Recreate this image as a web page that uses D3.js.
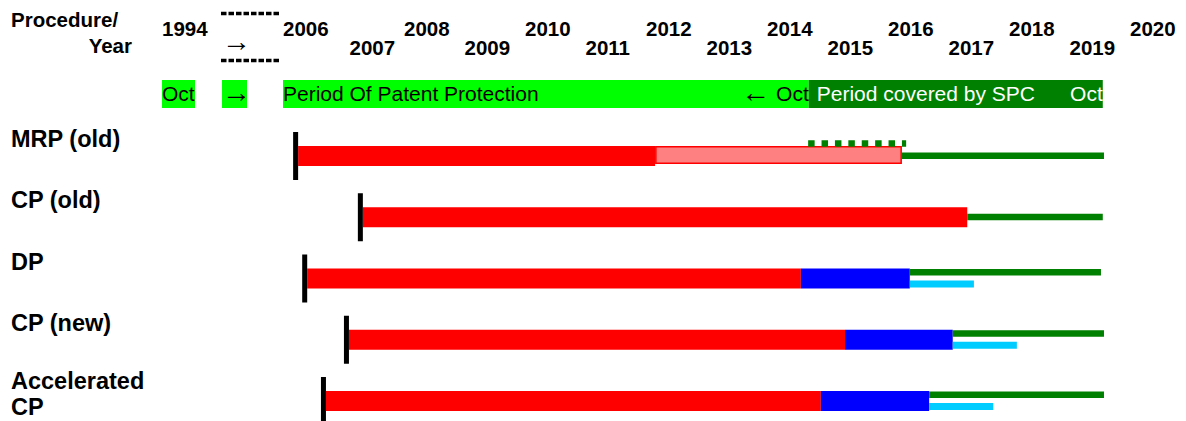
<!DOCTYPE html>
<html>
<head>
<meta charset="utf-8">
<script src="https://cdn.jsdelivr.net/npm/d3@7/dist/d3.min.js"></script>
<style>
  html, body { margin: 0; padding: 0; background: #fff; }
  svg { display: block; font-family: "Liberation Sans", Arial, Helvetica, sans-serif; }
</style>
</head>
<body>
<svg id="chart" width="1186" height="421"></svg>
<script>
// ---------- DATA ----------
const yearsTop = [1994, 2006, 2008, 2010, 2012, 2014, 2016, 2018, 2020];
const yearsBottom = [2007, 2009, 2011, 2013, 2015, 2017, 2019];
const rowNames = ["MRP (old)", "CP (old)", "DP", "CP (new)", "Accelerated CP"];
const rowLabelLines = [["MRP (old)"], ["CP (old)"], ["DP"], ["CP (new)"], ["Accelerated", "CP"]];
const procStart = [2006.25, 2007.32, 2006.40, 2007.09, 2006.71];
const redEnd    = [2012.15, 2017.31, 2014.56, 2015.29, 2014.89];
const pinkEnd   = [2016.23, null, null, null, null];
const blueEnd   = [null, null, 2016.36, 2017.07, 2016.68];
const cyanEnd   = [null, null, 2017.42, 2018.13, 2017.74];
const greenEnd  = [2019.57, 2019.55, 2019.52, 2019.57, 2019.57];
const mrpDotted = [2014.68, 2016.30];
const patentFiled = 1994;
const patentStart = 2006;
const patentEnd = 2014.69;
const spcEnd = 2019.55;

// ---------- SCALES ----------
// broken time axis: 1994 .. (break) .. 2006 - 2020
const x = d3.scaleLinear().domain([1994, 1995, 2006, 2020]).range([162, 221, 283, 1130]);
const y = d3.scalePoint().domain(rowNames).range([146, 391]);

const svg = d3.select("#chart");
svg.append("rect").attr("width", 1186).attr("height", 421).attr("fill", "#fff");

// ---------- HEADER ----------
const hdr = svg.append("g").attr("font-weight", "bold").attr("font-size", 20.5).attr("fill", "#000");
hdr.append("text").attr("x", 11).attr("y", 27).text("Procedure/");
hdr.append("text").attr("x", 132).attr("y", 53).attr("text-anchor", "end").text("Year");

hdr.selectAll(".yt").data(yearsTop).join("text")
  .attr("x", d => x(d)).attr("y", 36).text(d => d);
hdr.selectAll(".yb").data(yearsBottom).join("text")
  .attr("x", d => x(d) + (d === 2007 ? 6 : 0)).attr("y", 55).text(d => d);

// axis break marker
[13.5, 60.5].forEach(yy => {
  svg.append("line").attr("x1", x(1995)).attr("x2", x(2006) - 2)
    .attr("y1", yy).attr("y2", yy)
    .attr("stroke", "#000").attr("stroke-width", 3.4).attr("stroke-dasharray", "5.5,2");
});
svg.append("text").attr("x", x(1995) + 1).attr("y", 51).attr("font-size", 29).text("\u2192");

// ---------- BAND ROW ----------
const bandY = 80, bandH = 28, bandBase = 101;
const band = svg.append("g").attr("font-size", 21);
function boxText(xx, txt, fs, w) {
  band.append("rect").attr("x", xx).attr("y", bandY).attr("width", w).attr("height", bandH).attr("fill", "#00ff00");
  band.append("text").attr("x", xx).attr("y", bandBase + (fs > 21 ? 1 : 0)).attr("font-size", fs).text(txt);
}
boxText(x(patentFiled), "Oct", 21, 33);
boxText(x(1995) + 1, "\u2192", 29, 25);

band.append("rect").attr("x", x(patentStart)).attr("y", bandY)
  .attr("width", x(patentEnd) - x(patentStart)).attr("height", bandH).attr("fill", "#00ff00");
band.append("rect").attr("x", x(patentEnd)).attr("y", bandY)
  .attr("width", x(spcEnd) - x(patentEnd)).attr("height", bandH).attr("fill", "#008000");
band.append("text").attr("x", x(patentStart)).attr("y", bandBase).attr("fill", "#000").text("Period Of Patent Protection");
const lt = band.append("text").attr("x", x(patentEnd)).attr("y", bandBase).attr("text-anchor", "end").attr("fill", "#000");
lt.append("tspan").attr("font-size", 29).attr("dy", 1).text("\u2190");
lt.append("tspan").attr("dy", -1).text(" Oct");
band.append("text").attr("x", x(patentEnd) + 8).attr("y", bandBase).attr("fill", "#fff").text("Period covered by SPC");
band.append("text").attr("x", x(spcEnd)).attr("y", bandBase).attr("text-anchor", "end").attr("fill", "#fff").text("Oct");

// ---------- ROWS ----------
const rowsData = rowNames.map((n, i) => ({
  name: n, lines: rowLabelLines[i], start: procStart[i], red: redEnd[i],
  pink: pinkEnd[i], blue: blueEnd[i], cyan: cyanEnd[i], green: greenEnd[i]
}));

const rows = svg.selectAll(".row").data(rowsData).join("g").attr("class", "row");

// labels
rows.each(function(d) {
  const g = d3.select(this);
  const top = y(d.name);
  const n = d.lines.length;
  d.lines.forEach((ln, k) => {
    const by = n === 1 ? top + 1 : top - 2 + k * 26;
    g.append("text")
      .attr("x", 11).attr("y", by)
      .attr("font-weight", "bold").attr("font-size", 23.5).text(ln);
  });
});

// red bars
rows.append("rect")
  .attr("x", d => x(d.start)).attr("y", d => y(d.name))
  .attr("width", d => x(d.red) - x(d.start)).attr("height", 20).attr("fill", "#ff0000");

// pink (old MRP extension)
rows.filter(d => d.pink != null).append("rect")
  .attr("x", d => x(d.red) + 0.75).attr("y", d => y(d.name) + 0.75)
  .attr("width", d => x(d.pink) - x(d.red) - 1.5).attr("height", 16.5)
  .attr("fill", "#ff8080").attr("stroke", "#ff0000").attr("stroke-width", 1.5);

// blue bars
rows.filter(d => d.blue != null).append("rect")
  .attr("x", d => x(d.red)).attr("y", d => y(d.name))
  .attr("width", d => x(d.blue) - x(d.red)).attr("height", 20).attr("fill", "#0000ff");

// green lines
const gStart = d => d.blue != null ? d.blue : (d.pink != null ? d.pink : d.red);
rows.append("rect")
  .attr("x", d => x(gStart(d)))
  .attr("y", d => y(d.name) + (d.blue != null ? 0.5 : 6.5))
  .attr("width", d => x(d.green) - x(gStart(d)))
  .attr("height", 6.5).attr("fill", "#008000");

// cyan lines
rows.filter(d => d.cyan != null).append("rect")
  .attr("x", d => x(d.blue)).attr("y", d => y(d.name) + 12)
  .attr("width", d => x(d.cyan) - x(d.blue)).attr("height", 7).attr("fill", "#00ccff");

// start ticks
rows.append("rect")
  .attr("x", d => x(d.start) - 5).attr("y", d => y(d.name) - 14)
  .attr("width", 5).attr("height", 48).attr("fill", "#000");

// dotted green line over MRP (old)
svg.append("line")
  .attr("x1", x(mrpDotted[0])).attr("x2", x(mrpDotted[1]))
  .attr("y1", y("MRP (old)") - 2.5).attr("y2", y("MRP (old)") - 2.5)
  .attr("stroke", "#008000").attr("stroke-width", 6.5).attr("stroke-dasharray", "6.5,6.9");
</script>
</body>
</html>
